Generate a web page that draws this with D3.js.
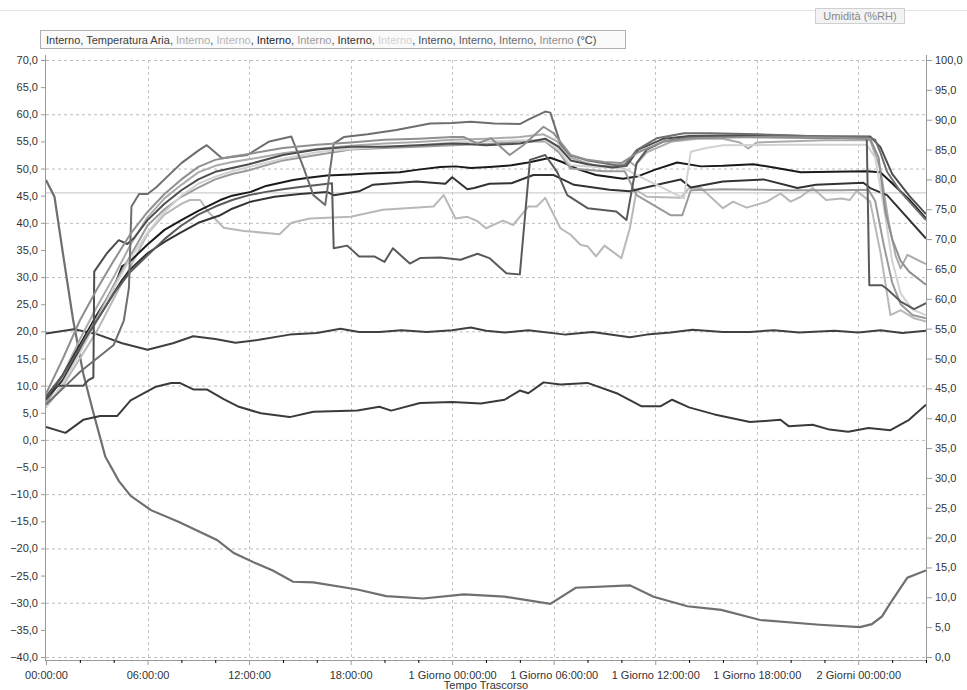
<!DOCTYPE html>
<html>
<head>
<meta charset="utf-8">
<script src="https://cdn.jsdelivr.net/npm/d3@7"></script>
<style>
  body { margin: 0; background: #fff; }
  svg { font-family: "Liberation Sans", Arial, sans-serif; }
  .tick text { fill: #333; font-size: 11px; }
</style>
</head>
<body>
<svg id="chart" width="967" height="690"></svg>
<script>
// elapsed hours shown on the x axis
const xTicks = [0, 6, 12, 18, 24, 30, 36, 42, 48];
const xTickLabels = ["00:00:00", "06:00:00", "12:00:00", "18:00:00", "1 Giorno 00:00:00",
    "1 Giorno 06:00:00", "1 Giorno 12:00:00", "1 Giorno 18:00:00", "2 Giorni 00:00:00"];

// temperature series, [hour, °C]
const sBottom = [[0,2.4],[1.15,1.3],[2.2,3.7],[3.2,4.4],[4.2,4.4],[5,7.3],[6.5,9.8],[7.4,10.5],[7.9,10.5],[8.7,9.3],[9.5,9.3],[10.5,7.5],[11.4,6.1],[12.7,4.9],[14.4,4.2],[15.8,5.2],[18.4,5.4],[19.7,6.1],[20.4,5.4],[22.1,6.8],[24,7],[25.7,6.7],[27.1,7.4],[28,9.1],[28.5,8.6],[29.4,10.6],[30.4,10.2],[32,10.5],[33.8,8.5],[35.2,6.2],[36.3,6.2],[37,7.4],[38,6],[39.5,4.7],[41.6,3.3],[43.4,3.7],[43.9,2.5],[45.3,2.8],[46.3,1.9],[47.4,1.5],[48.6,2.2],[49.9,1.8],[51,3.7],[52,6.5]];
const sAir = [[0,19.6],[1.65,20.4],[3,19.5],[4.5,17.8],[6,16.6],[7.5,17.8],[8.7,19.1],[10,18.6],[11.2,17.9],[12.5,18.4],[14.4,19.4],[16,19.7],[17.4,20.5],[18.5,19.9],[19.7,19.9],[21,20.2],[22.5,19.9],[24,20.2],[25.1,20.7],[26,20.1],[27.1,19.8],[28.5,20.2],[30.7,19.4],[32.3,19.9],[34.5,18.9],[35.5,19.4],[36.9,19.8],[38.2,20.3],[40,19.9],[41.6,19.9],[43,20.2],[44.5,19.8],[46.6,20.1],[48,19.8],[49.3,20.2],[50.6,19.7],[52,20.1]];
const sB = [[0,6.5],[1,12],[2,18.5],[3,24.5],[4,30],[5,36],[6,41],[7,44.5],[8,47],[9,49.3],[10,50.5],[11,51.2],[12,51.7],[14,52.8],[16,53.6],[18,54.2],[20,54.6],[22,54.9],[24,55.3],[26,55.5],[28,55.8],[29.4,56.3],[30.2,55],[31,52],[32.5,50.5],[34,50.4],[34.4,51.5],[34.8,50.5],[35.5,53],[37,55],[38.5,55.5],[40,55.5],[41,54.8],[41.5,53.7],[42,54.8],[46,55.2],[48.7,55.2],[49.3,50],[49.8,40],[50.2,34],[50.5,31.6],[50.9,34.1],[52,32.4]];
const sLJ = [[0,6],[1,10],[2,15],[3,20],[4,26],[5,32],[6,38],[7,41.5],[8,43.5],[8.5,44.2],[9.1,44.2],[9.6,42],[10.5,39.1],[11.7,38.5],[13.8,37.9],[14.5,40],[15.6,40.8],[18,41.1],[19.9,42.4],[22.9,43],[23.5,45.1],[24.2,40.8],[24.9,41.1],[25.5,40.3],[26,39],[27,40.4],[27.6,39.6],[28.5,43],[29,43],[29.5,44.6],[30.4,39],[31,37.8],[31.6,35.9],[32,35.7],[32.5,33.8],[33,35.8],[34,33.5],[34.5,39],[34.9,46],[35.5,44.8],[37.5,44.6],[38,46.4],[38.7,46.4],[40,42.7],[40.6,43.9],[41.4,42.8],[42.6,43.9],[43.4,45.4],[44,43.9],[44.6,44.8],[45.3,46.4],[46.1,44.2],[47,44.5],[47.5,44.2],[47.9,45.9],[48.7,43.9],[49.3,34.7],[49.9,23],[50.5,23.9],[51.3,22.4],[52,21.8]];
const sU1 = [[0,7.5],[1,12],[2,17.5],[3,23],[4,28],[4.5,32],[5,33],[6,36],[7,38.7],[8,40.5],[9,42.2],[10.3,44.2],[11,45],[12.1,45.7],[13,46.8],[14.6,47.9],[15.5,48.3],[16.6,48.7],[18,48.9],[19,49.1],[20.9,49.3],[22,49.8],[23.3,50.3],[24.2,50.4],[25.1,50.1],[26.2,50.3],[27.5,50.6],[28.5,51.1],[29.8,52],[30.5,51.2],[31.5,49.8],[32.5,48.8],[34.1,48.1],[35,48.6],[36,49.8],[37.3,51.1],[38.7,50.4],[40,50.5],[41.8,50.8],[43,50.2],[44.6,49.3],[46.5,49.4],[48.5,49.5],[49.3,49.3],[50,47.3],[51,44.3],[52,40.8]];
const sF = [[0,7],[1,11.5],[2,17],[3,22.5],[4,28.5],[5,34],[6,39.5],[7,42.5],[8,44.8],[9,46.5],[10,48],[11,49],[12,49.7],[14,51.5],[16,52.5],[18,53.5],[20,53.8],[22,54],[24,54.3],[26,54.5],[28,55],[29.5,55],[30.3,53],[31,50],[33,49.5],[34.2,49.5],[34.9,45.1],[36.9,41.4],[37.6,41.4],[38.1,46],[40,46.2],[44,46],[47,46],[48.6,46.1],[49,44],[49.5,36],[50,29],[50.5,25],[51.2,23],[52,22.4]];
const sU2 = [[0,7.5],[1,11],[2,16.6],[3,22],[4,27],[4.5,29.5],[5,31.5],[6,34.4],[7,36.5],[7.9,38.1],[9,40],[10.3,41.4],[11,42.6],[12.1,43.9],[13.5,44.8],[15,45.3],[16.6,45.7],[17,45.1],[18.5,45.8],[19.3,47],[21.9,47.6],[23.6,47.2],[24,48.4],[24.9,46.2],[25.3,46.4],[26.2,47.2],[27.5,47.3],[28.8,48.8],[30,48.8],[31.2,47],[33.3,46.1],[34.5,45.8],[36.5,47.3],[37.5,48],[38.1,46.5],[40,47.6],[42.4,48],[44.4,46.4],[45.5,47],[48.3,47.4],[48.7,46.4],[49.7,45.1],[52,37.1]];
const sE = [[0,6],[1,10.5],[2,16],[3,22],[4,28],[5,33.5],[6,38.2],[7,42],[8,45],[9,47.2],[10,48.5],[11,49.5],[12,50.3],[14,51.8],[16,53],[18,53.6],[20,54],[22,54.3],[24,54.8],[26,55],[28,55.2],[29.5,55.2],[30.3,53.5],[31,50.6],[33,50.2],[34.2,50],[34.8,49],[35.3,48.2],[37.7,44.5],[38.1,53.1],[39,53.8],[40,54.3],[44,54.4],[48.5,54.4],[49,52],[49.5,43],[50,33],[50.5,27],[51.2,24],[52,23]];
const sC = [[0,7.5],[0.5,10],[2.2,10],[2.5,11],[2.8,11.5],[2.85,31],[3.6,34.4],[4.3,36.8],[4.8,36.1],[5.2,37.2],[6,40.5],[7,43.5],[8,46],[9,48],[10,49.4],[12,50.8],[14,52.5],[16,53.5],[18,54],[20,54],[22,54.3],[24,54.6],[25,54.5],[26,54.3],[28,54.6],[29.5,55.5],[30.3,54],[31,51.5],[32,50.8],[33.5,50.2],[34.3,50.5],[35,53.5],[36.5,55.5],[38,56],[42,56.2],[46,55.9],[48.7,55.9],[49.3,54],[50,49],[51,45],[52,41.6]];
const sD = [[0,8],[1,12],[2,17],[3,22],[4,27],[5,31],[6,34],[7,37],[8,39.5],[9,41.5],[10,43],[11,44.2],[12,45.1],[13,45.7],[14,46.2],[15,46.6],[16.9,47.3],[17,35.3],[17.8,35.8],[18.5,33.8],[19.4,33.8],[20,32.8],[20.5,35.3],[21.5,32.5],[22.1,33.5],[23.3,33.6],[24.5,33.2],[25.5,34.3],[26.2,33.5],[27.2,30.7],[28,30.5],[28.6,51.6],[29.5,52.5],[30.2,49.4],[30.8,45.1],[32,42.7],[33.7,42.1],[34.3,40.5],[34.9,51],[35.5,53.5],[36.5,55],[38,55.8],[40,55.9],[44,55.7],[48.5,55.6],[48.65,28.5],[49.4,28.5],[49.7,27.8],[50.5,25.5],[51.3,24.1],[52,25.2]];
const sT = [[0,6.5],[1,9.5],[2,12.5],[3,15],[4,17.5],[4.6,22],[4.9,28],[5.05,43],[5.5,45.3],[6,45.3],[6.5,46.5],[7,48],[8,51],[9,53.3],[9.5,54.3],[10.4,51.9],[11.9,52.5],[13.2,55],[14.5,55.9],[15.2,50.3],[15.8,45.1],[16.5,43.3],[17,54.6],[17.6,55.8],[19,56.3],[20.7,57.1],[22.7,58.3],[24,58.4],[25.1,58.6],[26.5,58.3],[28,58.2],[28.5,59],[29.5,60.5],[29.8,60.3],[30.4,54.6],[31,52.4],[32,51.5],[33.7,50.6],[34.2,50.6],[34.9,53.4],[36.1,55.6],[37.7,56.5],[39.3,56.5],[42,56.3],[45,56],[48.5,55.8],[49,55.3],[49.3,53],[49.7,49.4],[50.5,45.7],[52,40.5]];
const sA = [[0,8.5],[1,15],[2,22],[3,27.7],[4,33],[5,38],[6,42],[7,45.3],[8,48],[9,50.3],[10,51.6],[11,52.2],[12,52.7],[14,53.8],[16,54.4],[18,54.8],[20,55.3],[22,55.5],[24,55.8],[24.7,55.8],[25.5,54.6],[26.3,55.6],[27.4,52.5],[28.2,54.3],[29.4,57.7],[30,56.5],[31,52.5],[32,51.6],[33,51.2],[34,51],[35,53],[36.5,55],[38,55.6],[42,55.8],[46,55.7],[48.7,55.5],[49.2,52],[49.6,42],[50,37],[50.5,33],[51,31],[52,28.6]];

// humidity, [hour, %RH]
const sHumidity = [[0,79.9],[0.5,77.1],[1,67.6],[1.6,56.5],[2.2,47.5],[2.8,40.9],[3.5,33.6],[4.3,29.5],[5,27],[6.2,24.6],[7.86,22.6],[10.1,19.6],[11.1,17.4],[12.4,15.7],[13.4,14.5],[14.6,12.6],[15.8,12.5],[18.4,11.3],[20.1,10.2],[22.3,9.8],[24.7,10.5],[27.1,10.1],[29.8,8.9],[31.3,11.6],[34.5,12],[35.9,10.1],[37.9,8.5],[39.9,7.9],[42.2,6.2],[45.7,5.4],[48.1,5],[48.8,5.5],[49.4,6.8],[50,9.5],[50.9,13.3],[52,14.5]];

const tempSeries = [
    { name: "Interno", color: "#3a3a3a", values: sBottom },
    { name: "Temperatura Aria", color: "#404040", values: sAir },
    { name: "Interno", color: "#ababab", values: sB },
    { name: "Interno", color: "#b8b8b8", values: sLJ },
    { name: "Interno", color: "#1a1a1a", values: sU1 },
    { name: "Interno", color: "#9a9a9a", values: sF },
    { name: "Interno", color: "#333333", values: sU2 },
    { name: "Interno", color: "#d2d2d2", values: sE },
    { name: "Interno", color: "#4d4d4d", values: sC },
    { name: "Interno", color: "#5a5a5a", values: sD },
    { name: "Interno", color: "#6e6e6e", values: sT },
    { name: "Interno", color: "#8f8f8f", values: sA }
];

const svg = d3.select("#chart");
const plot = { left: 46, right: 926, top: 60, bottom: 657 };

const x = d3.scaleLinear().domain([0, 52]).range([plot.left, plot.right]);
const yL = d3.scaleLinear().domain([-40, 70]).range([plot.bottom, plot.top]);
const yR = d3.scaleLinear().domain([0, 100]).range([plot.bottom, plot.top]);
const comma = d => d3.format(".1f")(d).replace(".", ",");

svg.append("rect").attr("width", 967).attr("height", 690).attr("fill", "#fff");
svg.append("line").attr("x1", 0).attr("x2", 967).attr("y1", 10.5).attr("y2", 10.5)
    .attr("stroke", "#e2e2e2");

// grid
svg.append("g").selectAll("line").data(d3.range(-40, 71, 10)).join("line")
    .attr("x1", plot.left).attr("x2", plot.right)
    .attr("y1", d => yL(d) + 0.5).attr("y2", d => yL(d) + 0.5)
    .attr("stroke", "#bdbdbd").attr("stroke-dasharray", "3,3");
svg.append("g").selectAll("line").data(xTicks.slice(1)).join("line")
    .attr("x1", d => Math.round(x(d)) + 0.5).attr("x2", d => Math.round(x(d)) + 0.5)
    .attr("y1", plot.top).attr("y2", plot.bottom)
    .attr("stroke", "#c4c4c4").attr("stroke-dasharray", "3,3");
svg.append("line").attr("x1", plot.left).attr("x2", plot.right)
    .attr("y1", yL(45.5)).attr("y2", yL(45.5)).attr("stroke", "#cfcfcf").attr("stroke-width", 1.2);

// axes
const leftAxis = svg.append("g").attr("transform", `translate(${plot.left},0)`)
    .call(d3.axisLeft(yL).tickValues(d3.range(-40, 71, 5)).tickFormat(comma).tickSize(5).tickPadding(3));
const rightAxis = svg.append("g").attr("transform", `translate(${plot.right},0)`)
    .call(d3.axisRight(yR).tickValues(d3.range(0, 101, 5)).tickFormat(comma).tickSize(6).tickPadding(3));
const bottomAxis = svg.append("g").attr("transform", `translate(0,${plot.bottom + 3})`)
    .call(d3.axisBottom(x).tickValues(xTicks).tickFormat((d, i) => xTickLabels[i]).tickSize(5).tickPadding(6));
svg.append("g").attr("transform", `translate(0,${plot.bottom + 3})`)
    .call(d3.axisBottom(x).tickValues(d3.range(0, 53, 2).filter(d => d % 6 !== 0)).tickFormat("").tickSize(3))
    .select(".domain").remove();
[leftAxis, rightAxis, bottomAxis].forEach(g => {
    g.selectAll("path.domain, line").attr("stroke", "#9a9a9a");
});
leftAxis.select(".domain").attr("d", `M-0.5,${plot.top - 5}V${plot.bottom + 4}`);
rightAxis.select(".domain").attr("d", `M0.5,${plot.top - 5}V${plot.bottom + 4}`);
bottomAxis.select(".domain").attr("d", `M${plot.left},0.5H${plot.right}`);

svg.append("text").attr("x", 486).attr("y", 689).attr("text-anchor", "middle")
    .attr("font-size", 11).attr("fill", "#333").text("Tempo Trascorso");

// lines
const line = yScale => d3.line().x(d => x(d[0])).y(d => yScale(d[1]));
const clip = svg.append("clipPath").attr("id", "clip").append("rect")
    .attr("x", plot.left).attr("y", plot.top - 2).attr("width", plot.right - plot.left)
    .attr("height", plot.bottom - plot.top + 4);
const linesG = svg.append("g").attr("clip-path", "url(#clip)");
linesG.append("path").datum(sHumidity).attr("d", line(yR))
    .attr("fill", "none").attr("stroke", "#6f6f6f").attr("stroke-width", 2.2);
tempSeries.forEach(s => {
    linesG.append("path").datum(s.values).attr("d", line(yL))
        .attr("fill", "none").attr("stroke", s.color).attr("stroke-width", 2)
        .attr("stroke-linejoin", "round");
});

// legends
const legend = svg.append("g");
legend.append("rect").attr("x", 40.5).attr("y", 30.5).attr("width", 585).attr("height", 18)
    .attr("fill", "#fafafa").attr("stroke", "#b0b0b0");
const legendText = legend.append("text").attr("x", 46).attr("y", 44).attr("font-size", 11);
tempSeries.forEach((s, i) => {
    legendText.append("tspan").attr("fill", s.color).text(s.name);
    legendText.append("tspan").attr("fill", "#444").text(i < tempSeries.length - 1 ? ", " : " ");
});
legendText.append("tspan").attr("fill", "#444").text("(°C)");

svg.append("rect").attr("x", 815.5).attr("y", 8.5).attr("width", 89).attr("height", 15)
    .attr("fill", "#f3f3f3").attr("stroke", "#cfcfcf");
svg.append("text").attr("x", 860).attr("y", 20).attr("text-anchor", "middle")
    .attr("font-size", 11).attr("fill", "#888").text("Umidità (%RH)");
</script>
</body>
</html>
